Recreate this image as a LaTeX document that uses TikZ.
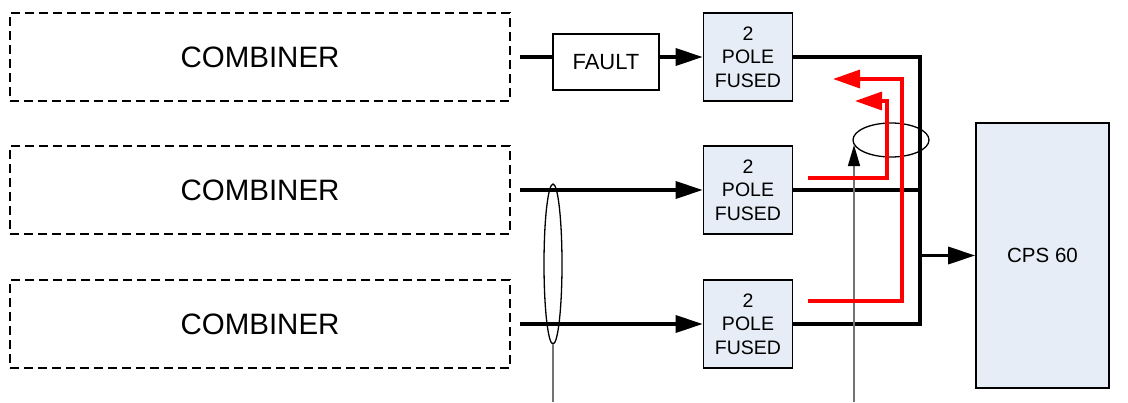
\documentclass[tikz,border=0pt]{standalone}
\usepackage{fontspec}
\setmainfont{Liberation Sans}
\usetikzlibrary{arrows.meta,shapes.geometric}
\definecolor{fusefill}{RGB}{230,237,247}
\definecolor{redline}{RGB}{255,0,0}
\tikzset{
  combbox/.style={draw=black,line width=1.4pt,dash pattern=on 9pt off 5pt,minimum width=500pt,minimum height=88pt,inner sep=0pt,font=\fontsize{29.5}{34}\selectfont},
  fusebox/.style={draw=black,line width=1.6pt,fill=fusefill,minimum width=89pt,minimum height=88pt,inner sep=0pt,align=center,font=\fontsize{19.5}{23.5}\selectfont},
  faultbox/.style={draw=black,line width=1.6pt,fill=white,minimum width=106pt,minimum height=56pt,inner sep=0pt,font=\fontsize{22}{26}\selectfont},
  cpsbox/.style={draw=black,line width=1.6pt,fill=fusefill,minimum width=133pt,minimum height=265pt,inner sep=0pt,font=\fontsize{20.5}{24}\selectfont},
  wire/.style={draw=black,line width=3.2pt},
  arr/.style={wire,-{Triangle[length=27pt,width=17pt]}},
  redwire/.style={draw=redline,line width=3.4pt,-{Triangle[length=27pt,width=18pt]}},
  ctring/.style={draw=black,ellipse,line width=1.3pt,inner sep=0pt},
  probe/.style={draw=black!55,line width=1.4pt},
}
\begin{document}
\begin{tikzpicture}[x=1pt,y=-1pt]
\useasboundingbox (0,0) rectangle (1128,402);
% combiners
\node[combbox] (comb1) at (260,57) {COMBINER};
\node[combbox] (comb2) at (260,190) {COMBINER};
\node[combbox] (comb3) at (260,324) {COMBINER};
% fault and fuses
\node[faultbox] (fault) at (606,62) {FAULT};
\node[fusebox] (fuse1) at (748,57) {2\\POLE\\FUSED};
\node[fusebox] (fuse2) at (748,190) {2\\POLE\\FUSED};
\node[fusebox] (fuse3) at (748,324) {2\\POLE\\FUSED};
\node[cpsbox] (cps) at (1042.5,255.5) {CPS 60};
% wire start points
\coordinate (s1) at (520,57);
\coordinate (s2) at (520,190);
\coordinate (s3) at (520,324);
\coordinate (busx) at (920,0);
% row 1
\draw[wire] (s1) -- (s1 -| fault.west);
\draw[arr] (fault.east |- fuse1.west) -- (fuse1.west);
% rows 2,3
\draw[arr] (s2) -- (fuse2.west);
\draw[arr] (s3) -- (fuse3.west);
% bus
\draw[wire,line join=miter] (fuse1.east) -- (fuse1.east -| busx) -- (fuse3.east -| busx) -- (fuse3.east);
\draw[wire] (fuse2.east) -- (fuse2.east -| busx);
\draw[arr] (busx |- cps.west) -- (cps.west);
% current transformers
\node[ctring,minimum width=76pt,minimum height=34pt] (ct1) at (891,140) {};
\node[ctring,minimum width=18pt,minimum height=160pt] (ct2) at (553,264) {};
\coordinate (p1) at (854,402);
\coordinate (p1tip) at (854,145);
\coordinate (p2) at (553,402);
\draw[probe,-{Triangle[length=21pt,width=12pt,color=black]}] (p1) -- (p1tip);
\draw[probe] (ct2.south) -- (p2);
% red current paths
\coordinate (r1) at (808,301);
\coordinate (r1c) at (902,79);
\coordinate (r1tip) at (833,79);
\coordinate (r2) at (808,178);
\coordinate (r2c) at (887,101);
\coordinate (r2tip) at (855,101);
\draw[redwire] (r1) -| (r1c) -- (r1tip);
\draw[redwire] (r2) -| (r2c) -- (r2tip);
\end{tikzpicture}
\end{document}
